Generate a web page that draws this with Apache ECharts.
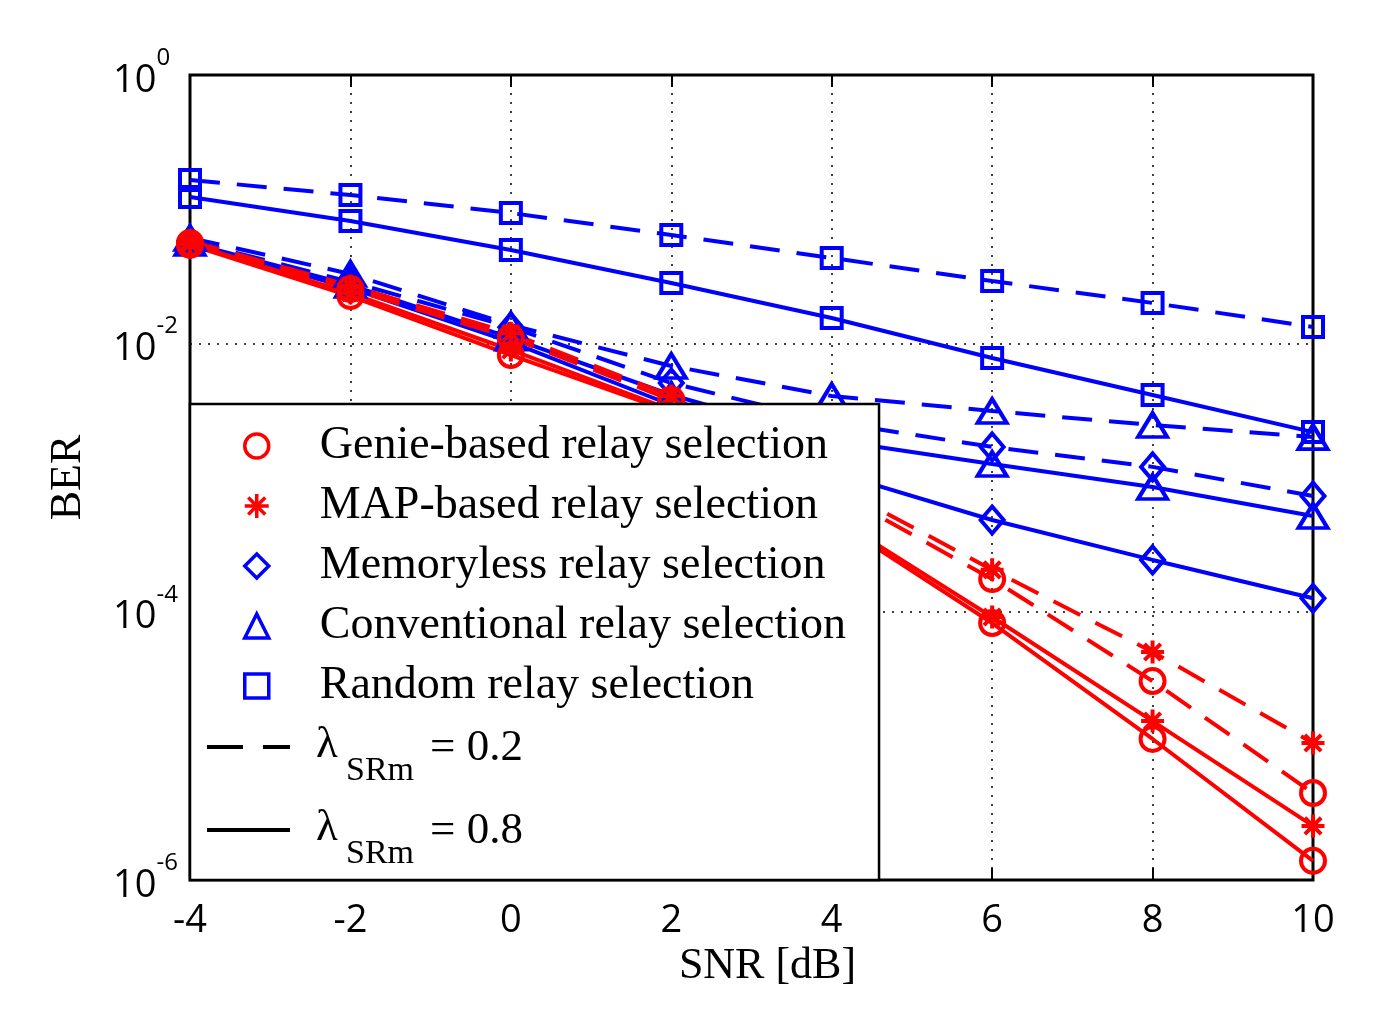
<!DOCTYPE html>
<html>
<head>
<meta charset="utf-8">
<title>BER vs SNR - relay selection</title>
<script src="https://cdn.jsdelivr.net/npm/echarts@6/dist/echarts.min.js"></script>
<style>
  html, body { margin: 0; padding: 0; background: #fff; }
  #chart { width: 1394px; height: 1035px; }
</style>
</head>
<body>
<div id="chart"></div>
<script>
// x axis (SNR in dB)
const snr = [-4, -2, 0, 2, 4, 6, 8, 10];

// BER values, lambda_SRm = 0.2 (dashed) and 0.8 (solid)
const genie02 = [0.056, 0.0254, 0.011, 0.00378, 0.000807, 0.000175, 3.04e-5, 4.45e-6];
const genie08 = [0.0541, 0.0225, 0.00818, 0.00308, 0.000491, 8.23e-5, 1.125e-5, 1.39e-6];
const map02 = [0.0579, 0.0268, 0.0119, 0.00405, 0.000894, 0.000205, 5.01e-5, 1.05e-5];
const map08 = [0.055, 0.0237, 0.00892, 0.00319, 0.000516, 9.13e-5, 1.53e-5, 2.53e-6];
const memless02 = [0.0579, 0.0287, 0.0132, 0.00506, 0.00259, 0.00169, 0.0012, 0.000728];
const memless08 = [0.056, 0.0258, 0.0102, 0.00347, 0.0011, 0.000482, 0.000243, 0.000126];
const conv02 = [0.061, 0.0329, 0.0137, 0.00678, 0.00405, 0.00313, 0.00246, 0.002];
const conv08 = [0.056, 0.0272, 0.011, 0.00412, 0.0019, 0.00126, 0.00085, 0.000516];
const random02 = [0.165, 0.1275, 0.0936, 0.0642, 0.0433, 0.0291, 0.02, 0.01323];
const random08 = [0.1232, 0.0816, 0.0496, 0.0282, 0.01545, 0.00777, 0.00412, 0.00218];

const names = [
  'Genie-based relay selection',
  'MAP-based relay selection',
  'Memoryless relay selection',
  'Conventional relay selection',
  'Random relay selection'
];
const lambdaLabels = ['0.2', '0.8'];

const RED = '#ff0000';
const BLUE = '#0000ff';
const STAR = 'path://M12,0L12,24M0,12L24,12M3.5,3.5L20.5,20.5M3.5,20.5L20.5,3.5';
const DASH = [30, 17];
const LW = 4;
const serif = '"Liberation Serif", "Times New Roman", serif';
const sans = '"Open Sans", "Liberation Sans", sans-serif';

function mkSeries(name, values, color, symbol, size, dashed) {
  return {
    name: name,
    type: 'line',
    data: snr.map((x, i) => [x, values[i]]),
    symbol: symbol,
    symbolSize: size,
    showAllSymbol: true,
    silent: true,
    emphasis: { disabled: true },
    lineStyle: { color: color, width: LW, type: dashed ? DASH : 'solid' },
    itemStyle: { color: 'rgba(0,0,0,0)', borderColor: color, borderWidth: LW }
  };
}

const series = [
  mkSeries(names[4], random02, BLUE, 'rect', [20, 20], true),
  mkSeries(names[4], random08, BLUE, 'rect', [20, 20], false),
  mkSeries(names[3], conv02, BLUE, 'triangle', [29, 24], true),
  mkSeries(names[3], conv08, BLUE, 'triangle', [29, 24], false),
  mkSeries(names[2], memless02, BLUE, 'diamond', [23, 27], true),
  mkSeries(names[2], memless08, BLUE, 'diamond', [23, 27], false),
  mkSeries(names[1], map02, RED, STAR, [23, 23], true),
  mkSeries(names[1], map08, RED, STAR, [23, 23], false),
  mkSeries(names[0], genie02, RED, 'circle', 24, true),
  mkSeries(names[0], genie08, RED, 'circle', 24, false)
];

const legendIcons = ['circle', STAR, 'diamond', 'triangle', 'rect'];

// lambda rows of the legend box (line sample + text with subscript)
const lambdaGraphics = [];
lambdaLabels.forEach((lab, i) => {
  const y = 747 + i * 83;
  lambdaGraphics.push({
    type: 'line', z: 100, silent: true,
    shape: { x1: 207, y1: y, x2: 290, y2: y },
    style: { stroke: '#000', lineWidth: 4, lineDash: i === 0 ? [36, 20] : null }
  });
  lambdaGraphics.push({
    type: 'text', z: 100, silent: true, x: 316, y: y - 2,
    style: { text: 'λ', font: '45px ' + serif, fill: '#000', verticalAlign: 'middle' }
  });
  lambdaGraphics.push({
    type: 'text', z: 100, silent: true, x: 346, y: y + 24,
    style: { text: 'SRm', font: '34px ' + serif, fill: '#000', verticalAlign: 'middle' }
  });
  lambdaGraphics.push({
    type: 'text', z: 100, silent: true, x: 430, y: y + 1,
    style: { text: '= ' + lab, font: '45px ' + serif, fill: '#000', verticalAlign: 'middle' }
  });
});

const chart = echarts.init(document.getElementById('chart'), null, { renderer: 'canvas' });

const option = {
  animation: false,
  backgroundColor: '#fff',
  grid: {
    left: 190, right: 81, top: 75, bottom: 155,
    show: true, borderColor: '#000', borderWidth: 3, backgroundColor: '#fff'
  },
  legend: {
    orient: 'vertical',
    left: 190,
    top: 404,
    selectedMode: false,
    padding: [17, 33, 169, 53],
    itemWidth: 24,
    itemHeight: 24,
    itemGap: 10,
    backgroundColor: '#fff',
    borderColor: '#000',
    borderWidth: 2.5,
    borderRadius: 0,
    itemStyle: { borderWidth: 3.5 },
    textStyle: {
      fontFamily: serif, fontSize: 46, color: '#000',
      lineHeight: 50, width: 480, padding: [0, 0, 0, 46]
    },
    data: names.map((n, i) => ({ name: n, icon: legendIcons[i] }))
  },
  xAxis: [{
    type: 'value',
    min: -4, max: 10, interval: 2,
    name: 'SNR [dB]',
    nameLocation: 'middle',
    nameGap: 59,
    nameTextStyle: { fontFamily: serif, fontSize: 44, color: '#000', padding: [0, 0, 0, 32] },
    axisLine: { show: false },
    axisTick: { show: true, inside: true, length: 12, lineStyle: { color: '#000', width: 2 } },
    axisLabel: { margin: 22, fontFamily: sans, fontSize: 38, color: '#000' },
    splitLine: { show: true, lineStyle: { color: '#000', width: 1.5, type: [2, 7] } }
  }, {
    type: 'value', position: 'top',
    min: -4, max: 10, interval: 2,
    axisLine: { show: false },
    axisTick: { show: true, inside: true, length: 12, lineStyle: { color: '#000', width: 2 } },
    axisLabel: { show: false },
    splitLine: { show: false }
  }],
  yAxis: [{
    type: 'log',
    logBase: 10,
    min: 1e-6, max: 1, interval: 2,
    name: 'BER',
    nameLocation: 'middle',
    nameRotate: 90,
    nameGap: 100,
    nameTextStyle: { fontFamily: serif, fontSize: 44, color: '#000' },
    axisLine: { show: false },
    axisTick: { show: true, inside: true, length: 12, lineStyle: { color: '#000', width: 2 } },
    minorTick: { show: false },
    axisLabel: {
      margin: 77,
      align: 'left',
      formatter: function (v) {
        const e = Math.round(Math.log10(v));
        return '{b|10}{e|' + e + '}';
      },
      rich: {
        b: { fontFamily: sans, fontSize: 38, color: '#000', padding: [16, 0, 4, 0] },
        e: { fontFamily: sans, fontSize: 24, color: '#000', verticalAlign: 'top' }
      }
    },
    splitLine: { show: true, lineStyle: { color: '#000', width: 1.5, type: [2, 7] } }
  }, {
    type: 'log', position: 'right',
    logBase: 10,
    min: 1e-6, max: 1, interval: 2,
    axisLine: { show: false },
    axisTick: { show: true, inside: true, length: 12, lineStyle: { color: '#000', width: 2 } },
    axisLabel: { show: false },
    splitLine: { show: false }
  }],
  graphic: lambdaGraphics,
  series: series
};

chart.setOption(option);
</script>
</body>
</html>
